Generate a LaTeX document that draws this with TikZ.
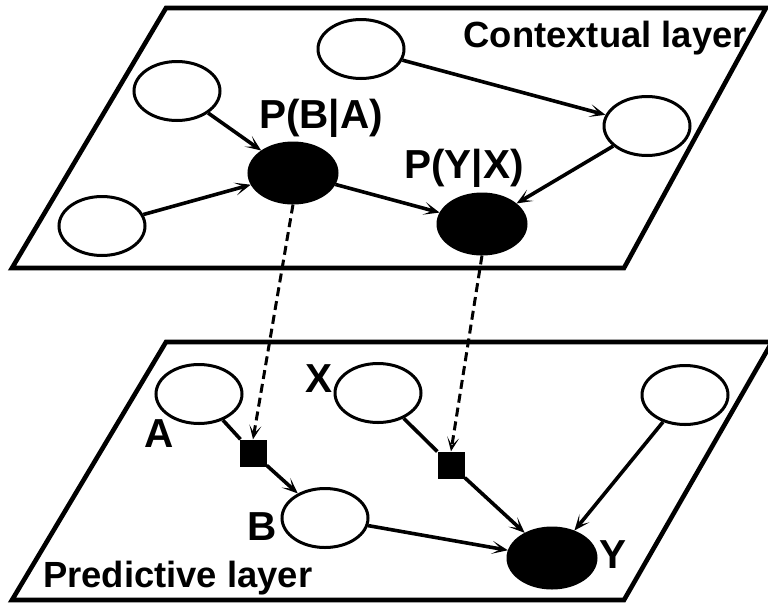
\documentclass[tikz,border=0pt]{standalone}
\usepackage{fontspec}
\setmainfont{Liberation Sans}
\usetikzlibrary{shapes.geometric,arrows.meta}

\tikzset{
  plane/.style={line width=4.6pt, line join=miter},
  varnode/.style={ellipse, draw, line width=3pt, fill=white,
    minimum width=86pt, minimum height=59pt, inner sep=0pt},
  obsnode/.style={ellipse, draw, line width=3pt, fill=black,
    minimum width=88pt, minimum height=60pt, inner sep=0pt},
  factor/.style={rectangle, fill=black, minimum size=27pt, inner sep=0pt},
  arr/.style={line width=3.6pt, -{Stealth[length=16pt,width=13pt,inset=9pt]}},
  link/.style={line width=3.6pt},
  mapping/.style={line width=3pt, dash pattern=on 9pt off 5pt,
    -{Stealth[length=14pt,width=12pt,inset=8pt]}},
  layertext/.style={font=\fontsize{36.4}{40}\selectfont\bfseries, inner sep=0pt},
  labeltext/.style={font=\fontsize{40.5}{44}\selectfont\bfseries, inner sep=0pt}
}

\begin{document}
\begin{tikzpicture}[x=1pt,y=-1pt]
\useasboundingbox (0,0) rectangle (768,603);

% the two layers
\draw[plane] (12,268) -- (166,8) -- (766,8) -- (624,268) -- cycle;
\draw[plane] (12,600) -- (166,342) -- (772,342) -- (624,600) -- cycle;

\node[layertext, anchor=base east] (ctxlabel) at (747,47) {Contextual layer};
\node[layertext, anchor=base west] (predlabel) at (43,587) {Predictive layer};

% contextual layer
\node[varnode] (c1) at (177,91) {};
\node[varnode] (c2) at (102,226) {};
\node[obsnode] (pba) at (293,173) {};
\node[varnode] (c3) at (361,49) {};
\node[varnode] (c4) at (647,126) {};
\node[obsnode] (pyx) at (482,224) {};

\node[labeltext, anchor=base] (pbalabel) at (321,128) {P(B|A)};
\node[labeltext, anchor=base] (pyxlabel) at (464,178) {P(Y|X)};

\draw[arr] (c1) -- (pba);
\draw[arr] (c2) -- (pba);
\draw[arr] (pba) -- (pyx);
\draw[arr] (c3) -- (c4);
\draw[arr] (c4) -- (pyx);

% predictive layer
\node[varnode] (a) at (199,394) {};
\node[varnode] (b) at (325,518) {};
\node[varnode] (x) at (378,393) {};
\node[varnode] (r) at (685,395) {};
\node[obsnode] (y) at (552,558) {};
\node[factor] (f1) at (253,453) {};
\node[factor] (f2) at (451,465) {};

\node[labeltext, anchor=base] (alabel) at (159,447) {A};
\node[labeltext, anchor=base] (blabel) at (262,540) {B};
\node[labeltext, anchor=base] (xlabel) at (319,392) {X};
\node[labeltext, anchor=base] (ylabel) at (613,568) {Y};

\draw[link] (a) -- (f1);
\draw[arr] (f1) -- (b);
\draw[link] (x) -- (f2);
\draw[arr] (f2) -- (y);
\draw[arr] (b) -- (y);
\draw[arr] (r) -- (y);

% mappings between the layers
\draw[mapping] (pba.south) -- (f1.north);
\draw[mapping] (pyx.south) -- (f2.north);
\end{tikzpicture}
\end{document}
